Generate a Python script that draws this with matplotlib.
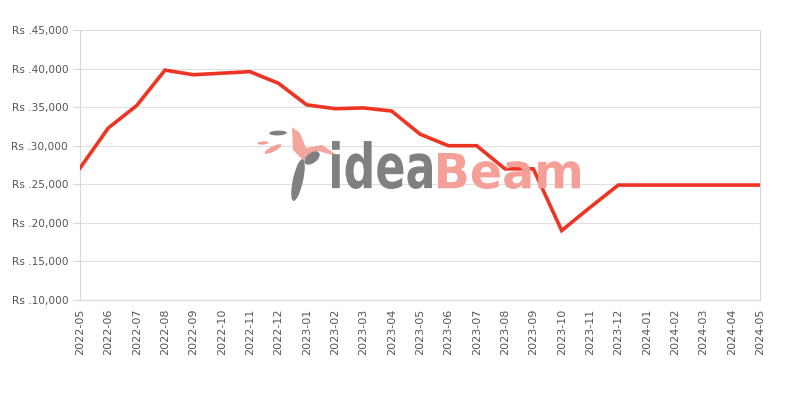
import matplotlib
matplotlib.use("Agg")
import matplotlib.pyplot as plt
from matplotlib.ticker import FuncFormatter
from matplotlib.patches import Ellipse, Polygon, PathPatch
from matplotlib.textpath import TextPath
from matplotlib.font_manager import FontProperties
from matplotlib.transforms import Affine2D

months = ["2022-05", "2022-06", "2022-07", "2022-08", "2022-09", "2022-10",
          "2022-11", "2022-12", "2023-01", "2023-02", "2023-03", "2023-04",
          "2023-05", "2023-06", "2023-07", "2023-08", "2023-09", "2023-10",
          "2023-11", "2023-12", "2024-01", "2024-02", "2024-03", "2024-04",
          "2024-05"]
prices = [27100, 32300, 35200, 39800, 39200, 39400,
          39600, 38100, 35300, 34800, 34900, 34500,
          31500, 30000, 30000, 27000, 27000, 19000,
          22000, 24900, 24900, 24900, 24900, 24900,
          24900]
y_ticks = [10000, 15000, 20000, 25000, 30000, 35000, 40000, 45000]

fig = plt.figure(figsize=(8, 4), dpi=100)
ax = fig.add_axes([0.1, 0.25, 0.85, 0.675])


def px(x, y):
    # pixel position -> figure fraction
    return (x / 800, 1 - y / 400)


def word(s, x0, x1, ytop, ybot, color):
    # text stretched into a pixel box (watermark)
    path = TextPath((0, 0), s, size=1, prop=FontProperties(family="DejaVu Sans", weight="semibold"))
    ext = path.get_extents()
    tr = (Affine2D().translate(-ext.x0, -ext.y0)
          .scale((x1 - x0) / ext.width, (ybot - ytop) / ext.height)
          .translate(x0, 400 - ybot))
    fig.patches.append(PathPatch(path, transform=tr, facecolor=color, edgecolor="none"))


# watermark logo
tf = fig.transFigure
fig.patches.append(Polygon([px(292, 127), px(300, 133), px(306, 148), px(322, 145),
                            px(340, 157), px(318, 151), px(303, 160), px(293, 150)],
                           closed=True, transform=tf, facecolor="#f4a099",
                           edgecolor="none", alpha=0.95))
fig.patches.append(Ellipse(px(298, 180), 0.013, 0.105, angle=-6, transform=tf,
                           facecolor="#808080", edgecolor="none"))
fig.patches.append(Ellipse(px(312, 158), 0.016, 0.035, angle=-20, transform=tf,
                           facecolor="#808080", edgecolor="none"))
fig.patches.append(Ellipse(px(278, 133), 0.022, 0.012, angle=5, transform=tf,
                           facecolor="#808080", edgecolor="none"))
fig.patches.append(Ellipse(px(263, 143), 0.014, 0.008, angle=10, transform=tf,
                           facecolor="#f4a099", edgecolor="none"))
fig.patches.append(Ellipse(px(273, 149), 0.01, 0.03, angle=-40, transform=tf,
                           facecolor="#f4a099", edgecolor="none"))
word("idea", 332, 432, 141, 189, "#808080")
word("Beam", 438, 580, 153, 189, "#f4a099")

x = list(range(len(months)))
ax.plot(x, prices, color="#ee3524", linewidth=2.6, solid_joinstyle="miter", zorder=3)

ax.set_xlim(0, len(months) - 1)
ax.set_ylim(10000, 45000)
ax.set_yticks(y_ticks)
ax.yaxis.set_major_formatter(FuncFormatter(lambda v, p: "Rs .{:,.0f}".format(v)))
ax.set_xticks(x)
ax.set_xticklabels(months, rotation=90)
ax.set_facecolor("none")

ax.grid(axis="y", color="#e0e0e0", linewidth=0.8)
for s in ax.spines.values():
    s.set_color("#d8d8d8")
ax.spines["top"].set_visible(False)
ax.tick_params(axis="y", colors="#d8d8d8", labelcolor="#555555", labelsize=7.6, length=5)
ax.tick_params(axis="x", colors="#d8d8d8", labelcolor="#555555", labelsize=8, length=0, pad=6)

fig.savefig("out.png", dpi=100)
